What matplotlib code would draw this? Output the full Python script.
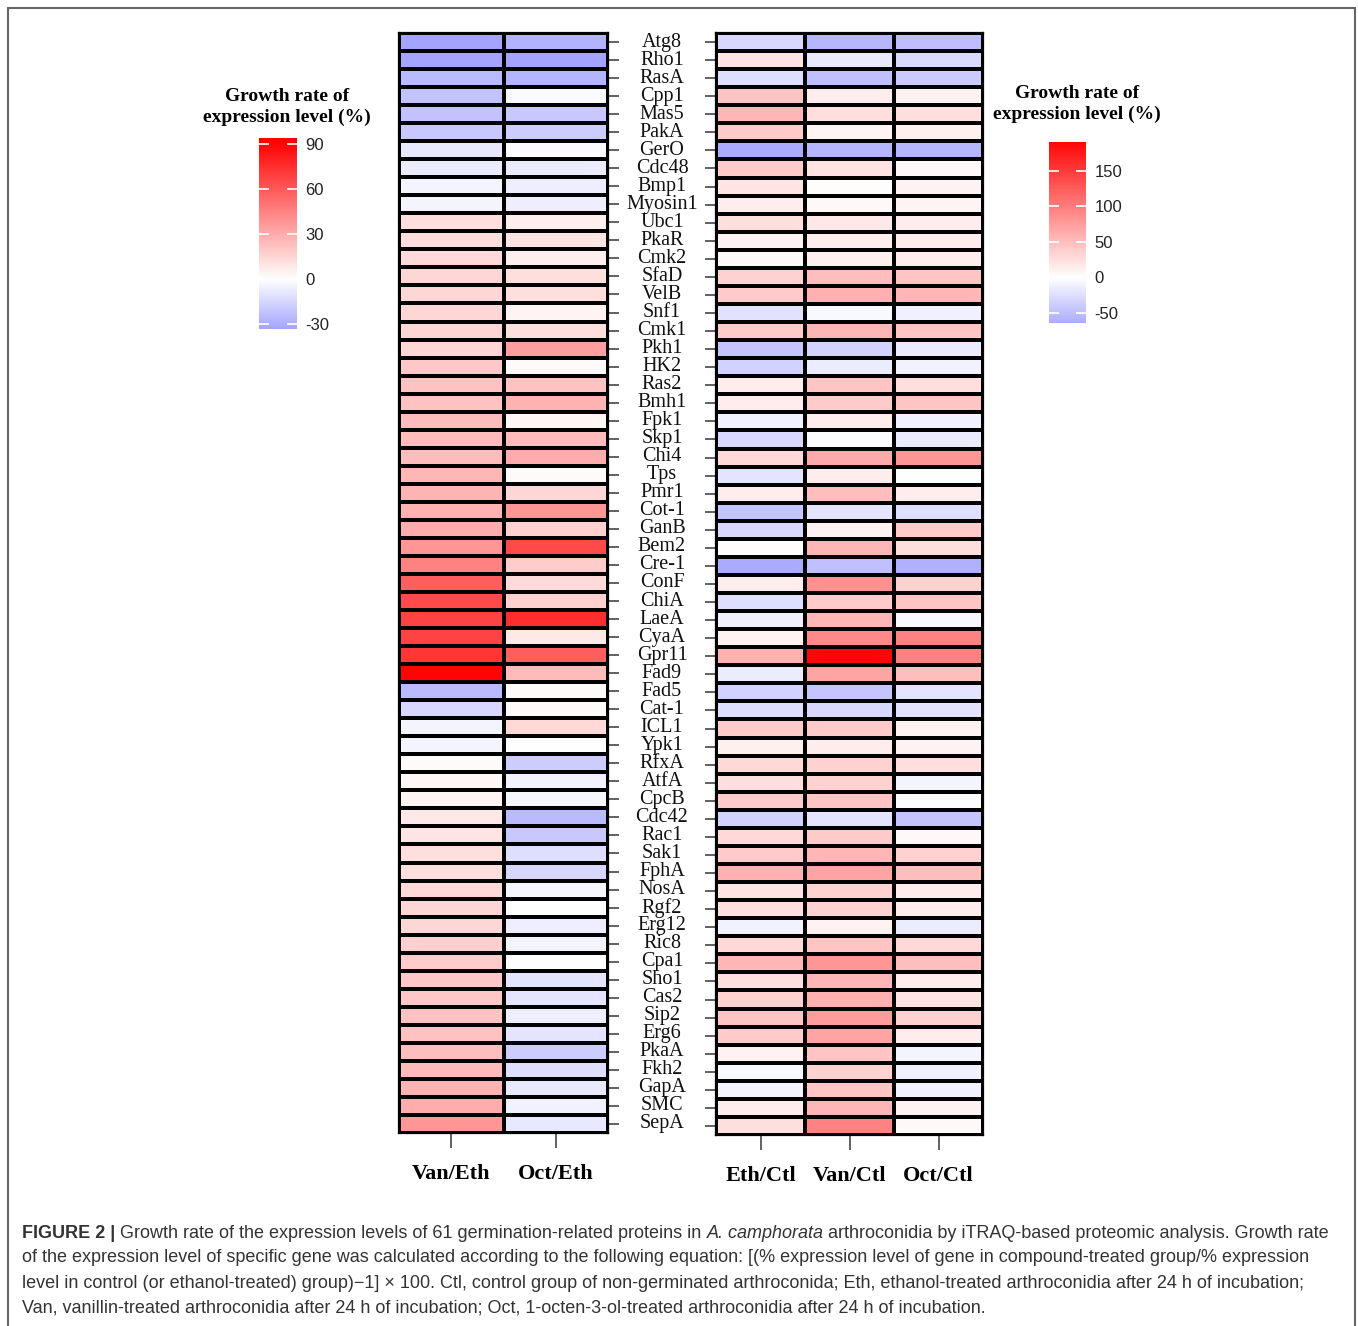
import numpy as np
import matplotlib
matplotlib.use("Agg")
import matplotlib.pyplot as plt
from matplotlib.colors import LinearSegmentedColormap, Normalize
from matplotlib.cm import ScalarMappable
from matplotlib.transforms import blended_transform_factory
from matplotlib.patches import Rectangle

plt.rcParams["axes.unicode_minus"] = False

genes = ["Atg8", "Rho1", "RasA", "Cpp1", "Mas5", "PakA", "GerO", "Cdc48", "Bmp1", "Myosin1",
         "Ubc1", "PkaR", "Cmk2", "SfaD", "VelB", "Snf1", "Cmk1", "Pkh1", "HK2", "Ras2",
         "Bmh1", "Fpk1", "Skp1", "Chi4", "Tps", "Pmr1", "Cot-1", "GanB", "Bem2", "Cre-1",
         "ConF", "ChiA", "LaeA", "CyaA", "Gpr11", "Fad9", "Fad5", "Cat-1", "ICL1", "Ypk1",
         "RfxA", "AtfA", "CpcB", "Cdc42", "Rac1", "Sak1", "FphA", "NosA", "Rgf2", "Erg12",
         "Ric8", "Cpa1", "Sho1", "Cas2", "Sip2", "Erg6", "PkaA", "Fkh2", "GapA", "SMC", "SepA"]

# left panel (relative to ethanol)
van_eth = [-33, -33, -25, -22, -22, -20, -8, -7, -4, -4,
           12, 12, 13, 15, 15, 15, 15, 15, 20, 22,
           22, 24, 24, 24, 26, 27, 28, 30, 38, 45,
           58, 65, 68, 68, 72, 90, -25, -14, -4, -4,
           2, 3, 4, 8, 10, 12, 12, 14, 15, 15,
           17, 18, 20, 20, 22, 22, 23, 25, 27, 30, 38]
oct_eth = [-28, -33, -27, -2, -20, -18, -2, -7, -6, -6,
           6, 10, 6, 12, 12, 4, 12, 35, 2, 22,
           28, 3, 24, 30, 2, 15, 38, 17, 65, 18,
           13, 17, 75, 8, 58, 25, 2, 2, 14, 0,
           -18, -5, -3, -25, -20, -12, -15, -3, 0, -6,
           -4, 0, -10, -10, -6, -10, -18, -12, -8, -5, -8]

# right panel (relative to control)
eth_ctl = [-30, 20, -25, 45, 55, 40, -65, 40, 20, 15,
           25, 10, 5, 35, 40, -22, 40, -45, -35, 15,
           15, -10, -30, 30, -20, 15, -45, -30, 2, -64,
           15, -25, -12, 10, 60, -15, -35, -25, 40, 12,
           30, 25, 40, -35, 30, 40, 60, 20, 25, -10,
           30, 55, 25, 35, 45, 40, 10, -5, -8, 15, 25]
van_ctl = [-55, -18, -48, 15, 25, 8, -55, 22, 3, 5,
           18, 15, 12, 50, 60, -5, 55, -35, -15, 45,
           40, 15, -3, 65, 15, 50, -20, 10, 55, -48,
           85, 40, 55, 90, 190, 70, -45, -30, 40, 15,
           35, 35, 45, -20, 40, 55, 70, 35, 35, 10,
           45, 80, 55, 60, 75, 70, 45, 35, 45, 55, 95]
oct_ctl = [-50, -28, -40, 10, 25, 12, -55, 5, 10, 8,
           15, 15, 15, 45, 55, -12, 45, -15, -10, 25,
           45, -10, -15, 80, 0, 15, -25, 40, 25, -60,
           35, 45, -5, 95, 95, 50, -20, -22, 10, 10,
           25, -8, -3, -45, 5, 35, 50, 15, 15, -15,
           30, 50, 15, 20, 35, 15, -8, -12, -10, 10, 5]

left_cols = ["Van/Eth", "Oct/Eth"]
right_cols = ["Eth/Ctl", "Van/Ctl", "Oct/Ctl"]
left_ticks = [-30, 0, 30, 60, 90]
right_ticks = [-50, 0, 50, 100, 150]

W, H = 1358, 1326
fig = plt.figure(figsize=(W / 100, H / 100), dpi=100)
fig.patch.set_facecolor("white")

def box(x0, y0, x1, y1):
    return [x0 / W, 1 - y1 / H, (x1 - x0) / W, (y1 - y0) / H]

cmap = LinearSegmentedColormap.from_list("bwr2", ["#0000ff", "#ffffff", "#ff0000"])
serif = ["Liberation Serif", "DejaVu Serif"]
sans = ["Liberation Sans", "DejaVu Sans"]

def heat(rect, cols, names, vmax):
    ax = fig.add_axes(box(*rect))
    data = np.array(cols).T
    ax.pcolormesh(np.arange(data.shape[1] + 1), np.arange(data.shape[0] + 1), data,
                  cmap=cmap, norm=Normalize(-vmax, vmax), edgecolors="black", linewidth=1.5)
    ax.set_xlim(0, data.shape[1])
    ax.set_ylim(data.shape[0], 0)
    for s in ax.spines.values():
        s.set_linewidth(1.6)
    ax.set_xticks(np.arange(data.shape[1]) + 0.5)
    ax.set_xticklabels(names, fontfamily=serif, fontweight="bold", fontsize=16)
    ax.tick_params(axis="x", length=11, width=1.3, color="#555555", pad=11)
    ax.set_yticks(np.arange(data.shape[0]) + 0.5)
    ax.set_yticklabels([])
    ax.tick_params(axis="y", length=8, width=1.3, color="#555555")
    return ax

axl = heat((399, 33, 608, 1133), [van_eth, oct_eth], left_cols, 92)
axl.yaxis.tick_right()
axr = heat((716, 33, 983, 1135), [eth_ctl, van_ctl, oct_ctl], right_cols, 195)
axr.yaxis.tick_left()

tr = blended_transform_factory(fig.transFigure, axl.transData)
for i, g in enumerate(genes):
    axl.text(662 / W, i + 0.5, g, transform=tr, ha="center", va="center",
             fontfamily=serif, fontsize=14.5, color="#111111")

def cbar(rect, lo, hi, vmax, ticks, title_xy):
    cax = fig.add_axes(box(*rect))
    sm = ScalarMappable(norm=Normalize(-vmax, vmax), cmap=cmap)
    cb = fig.colorbar(sm, cax=cax, boundaries=np.linspace(lo, hi, 300), ticks=ticks)
    cb.outline.set_visible(False)
    cax.tick_params(direction="in", length=7, width=1.2, color="white", left=True, right=True,
                    labelsize=12, pad=6)
    for t in cax.get_yticklabels():
        t.set_fontfamily(sans)
        t.set_color("#222222")
    fig.text(title_xy[0] / W, 1 - title_xy[1] / H, "Growth rate of\nexpression level (%)",
             ha="center", va="center", fontfamily=serif, fontweight="bold", fontsize=14,
             linespacing=1.3)

cbar((259, 138, 297, 329), -33, 94, 92, left_ticks, (287, 107))
cbar((1049, 142, 1086, 323), -64, 190, 195, right_ticks, (1077, 104))

# figure frame
fig.add_artist(Rectangle((8 / W, -0.01), (1355 - 8) / W, 1.01 - 8 / H, transform=fig.transFigure,
                         fill=False, edgecolor="#666666", linewidth=1.5))

# caption
cap_color = "#333333"
line1 = [("FIGURE 2 | ", "bold", "normal"),
         ("Growth rate of the expression levels of 61 germination-related proteins in ", "normal", "normal"),
         ("A. camphorata", "normal", "italic"),
         (" arthroconidia by iTRAQ-based proteomic analysis. Growth rate", "normal", "normal")]
other_lines = ["of the expression level of specific gene was calculated according to the following equation: "
               "[(% expression level of gene in compound-treated group/% expression",
               "level in control (or ethanol-treated) group)\u22121] \u00d7 100. Ctl, control group of "
               "non-germinated arthroconida; Eth, ethanol-treated arthroconidia after 24 h of incubation;",
               "Van, vanillin-treated arthroconidia after 24 h of incubation; Oct, 1-octen-3-ol-treated "
               "arthroconidia after 24 h of incubation."]
cap_size = 13.0
renderer = fig.canvas.get_renderer()
x = 22
for txt, wt, st in line1:
    t = fig.text(x / W, 1 - 1233 / H, txt, fontfamily=sans, fontweight=wt, fontstyle=st,
                 fontsize=cap_size, color=cap_color, va="center", ha="left")
    x += t.get_window_extent(renderer).width
for k, txt in enumerate(other_lines):
    fig.text(22 / W, 1 - (1258 + 25 * k) / H, txt, fontfamily=sans, fontsize=cap_size,
             color=cap_color, va="center", ha="left")

fig.savefig("out.png", dpi=100)
